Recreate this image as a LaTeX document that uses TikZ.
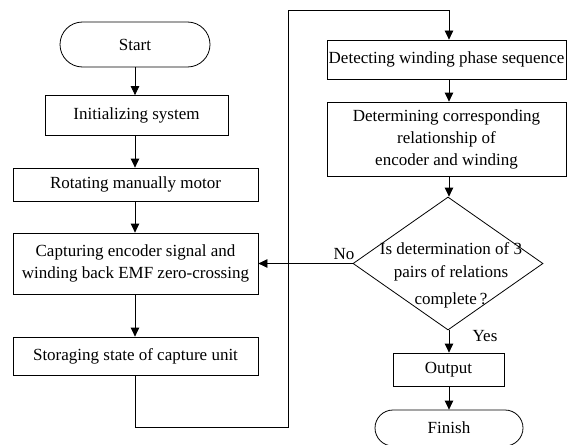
\documentclass[tikz,border=0pt]{standalone}
\usepackage{fontspec}
\setmainfont{Liberation Serif}
\usetikzlibrary{arrows.meta,shapes.misc,shapes.geometric}
\begin{document}
\begin{tikzpicture}[x=1pt,y=-1pt,
  every node/.style={font=\fontsize{17}{22}\selectfont, inner sep=0pt},
  box/.style={draw, line width=0.8pt, rectangle, align=center},
  term/.style={draw, line width=0.8pt, rounded rectangle},
  flow/.style={line width=0.8pt, -{Triangle[length=9pt,width=8.5pt]}},
  plain/.style={line width=0.8pt}]
\useasboundingbox (0,0) rectangle (567,444);
% left column
\node[term, minimum width=150pt, minimum height=45pt] (start) at (135,44.5) {Start};
\node[box, minimum width=183pt, minimum height=40pt] (init) at (136.5,115.5) {Initializing system};
\node[box, minimum width=245pt, minimum height=33pt] (rot) at (135.5,184.5) {Rotating manually motor};
\node[box, minimum width=245pt, minimum height=61pt] (cap) at (135.5,263.5) {Capturing encoder signal and\\winding back EMF zero-crossing};
\node[box, minimum width=245pt, minimum height=38pt] (store) at (135.5,356) {Storaging state of capture unit};
% right column
\node[box, minimum width=239pt, minimum height=39pt] (detect) at (446.5,59.5) {Detecting winding phase sequence};
\node[box, minimum width=239pt, minimum height=74pt] (determ) at (446.5,139) {Determining corresponding\\relationship of\\encoder and winding};
\node[draw, line width=0.8pt, diamond, minimum width=190pt, minimum height=133pt] (dec) at (448,263.5) {};
\node[align=center] (dtext) at (451,275) {Is determination of 3\\[1pt]pairs of relations\\[5pt]complete\,?};
\node[box, minimum width=111pt, minimum height=33pt] (out) at (448.5,369.5) {Output};
\node[term, minimum width=148pt, minimum height=36pt] (fin) at (449,428) {Finish};
% labels
\node (no) at (344,254) {No};
\node (yes) at (485,336) {Yes};
% corner coordinates
\coordinate (c1) at (135,427);
\coordinate (c2) at (288,427);
\coordinate (c3) at (288,10);
\coordinate (c4) at (449,10);
% connectors
\draw[flow] (start.south) -- (start.south |- init.north);
\draw[flow] (start.south |- init.south) -- (start.south |- rot.north);
\draw[flow] (start.south |- rot.south) -- (start.south |- cap.north);
\draw[flow] (start.south |- cap.south) -- (start.south |- store.north);
\draw[flow] (start.south |- store.south) -- (c1) -- (c2) -- (c3) -- (c4) -- (c4 |- detect.north);
\draw[flow] (c4 |- detect.south) -- (c4 |- determ.north);
\draw[flow] (c4 |- determ.south) -- (c4 |- dec.north);
\draw[flow] (c4 |- dec.south) -- (c4 |- out.north);
\draw[flow] (c4 |- out.south) -- (c4 |- fin.north);
\draw[flow] (dec.west) -- (dec.west -| cap.east);
\end{tikzpicture}
\end{document}
